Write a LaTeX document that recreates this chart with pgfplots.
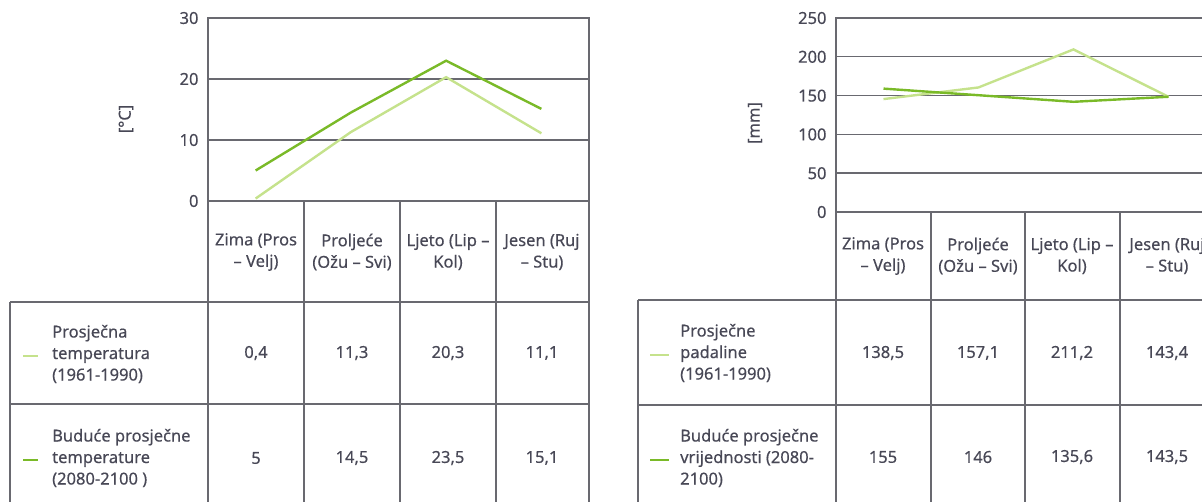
\documentclass[border=0pt]{standalone}
\usepackage{pgfplots}
\pgfplotsset{compat=1.18}
\usepackage{fontspec}
\setmainfont[FakeBold=0.35]{Noto Sans}
\definecolor{lightg}{RGB}{197,226,140}
\definecolor{darkg}{RGB}{122,186,40}
\definecolor{gridc}{RGB}{105,105,112}
\definecolor{txt}{RGB}{72,72,86}
\newcommand{\fs}{\fontsize{16.5}{21.5}\selectfont\bfseries}
\begin{document}
\begin{tikzpicture}[every node/.style={text=txt}]
\useasboundingbox (0,0) rectangle (1202pt,-502pt);
\clip (0,0) rectangle (1202pt,-502pt);
\pgfplotsset{
  myax/.style={
    anchor=south west, scale only axis,
    xmin=0, xmax=4, xtick=\empty,
    ymajorgrids, grid style={gridc, line width=1.4pt},
    axis line style={gridc, line width=1.4pt},
    major tick length=0pt,
    tick label style={font=\fs, text=txt},
    yticklabel style={xshift=-6pt},
    /pgf/number format/assume math mode=true,
    clip=false,
  }
}
% ---------- temperature ----------
\begin{axis}[myax, at={(208pt,-201pt)}, width=381pt, height=183pt,
  ymin=0, ymax=30, ytick={0,10,20,30}]
\addplot[lightg, line width=2.4pt] coordinates {(0.5,0.4) (1.5,11.3) (2.5,20.3) (3.5,11.1)};
\addplot[darkg, line width=2.4pt] coordinates {(0.5,5) (1.5,14.5) (2.5,23.0) (3.5,15.1)};
\end{axis}
% ---------- precipitation ----------
\begin{axis}[myax, at={(836pt,-212pt)}, width=380pt, height=194pt,
  ymin=0, ymax=250, ytick={0,50,100,150,200,250}]
\addplot[lightg, line width=2.4pt] coordinates {(0.5,145.5) (1.5,160.5) (2.5,209.5) (3.5,148.5)};
\addplot[darkg, line width=2.4pt] coordinates {(0.5,159) (1.5,150.5) (2.5,142) (3.5,148.5)};
\end{axis}
% unit labels
\node[rotate=90, font=\fs] at (126pt,-119pt) {[°C]};
\node[rotate=90, font=\fs] at (755pt,-123pt) {[mm]};
% ---------- left table ----------
\begin{scope}[gridc, line width=1.4pt]
\foreach \x in {208,304,400,496,589} \draw (\x pt,-201pt) -- (\x pt,-510pt);
\draw (10pt,-302pt) -- (589pt,-302pt);
\draw (10pt,-404pt) -- (589pt,-404pt);
\draw (10pt,-302pt) -- (10pt,-510pt);
\end{scope}
\begin{scope}[every node/.style={font=\fs, text=txt, align=center, inner sep=0pt}]
\node at (256pt,-252pt) {Zima (Pros\\– Velj)};
\node at (352pt,-252pt) {Proljeće\\(Ožu – Svi)};
\node at (448pt,-252pt) {Ljeto (Lip –\\Kol)};
\node at (542pt,-252pt) {Jesen (Ruj\\– Stu)};
\node at (256pt,-353pt) {0,4};
\node at (352pt,-353pt) {11,3};
\node at (448pt,-353pt) {20,3};
\node at (542pt,-353pt) {11,1};
\node at (256pt,-458pt) {5};
\node at (352pt,-458pt) {14,5};
\node at (448pt,-458pt) {23,5};
\node at (542pt,-458pt) {15,1};
\node[anchor=west, align=left] at (52pt,-354pt) {Prosječna\\temperatura\\(1961-1990)};
\node[anchor=west, align=left] at (52pt,-458pt) {Buduće prosječne\\temperature\\(2080-2100 )};
\end{scope}
\draw[lightg, line width=2pt] (23pt,-356pt) -- (38pt,-356pt);
\draw[darkg, line width=2pt] (23pt,-460pt) -- (38pt,-460pt);
% ---------- right table ----------
\begin{scope}[gridc, line width=1.4pt]
\foreach \x in {836,931,1025,1120,1215} \draw (\x pt,-212pt) -- (\x pt,-510pt);
\draw (638pt,-300pt) -- (1220pt,-300pt);
\draw (638pt,-405pt) -- (1220pt,-405pt);
\draw (638pt,-300pt) -- (638pt,-510pt);
\end{scope}
\begin{scope}[every node/.style={font=\fs, text=txt, align=center, inner sep=0pt}]
\node at (883pt,-256pt) {Zima (Pros\\– Velj)};
\node at (978pt,-256pt) {Proljeće\\(Ožu – Svi)};
\node at (1072pt,-256pt) {Ljeto (Lip –\\Kol)};
\node at (1167pt,-256pt) {Jesen (Ruj\\– Stu)};
\node at (883pt,-353pt) {138,5};
\node at (978pt,-353pt) {157,1};
\node at (1072pt,-353pt) {211,2};
\node at (1167pt,-353pt) {143,4};
\node at (883pt,-457pt) {155};
\node at (978pt,-457pt) {146};
\node at (1072pt,-457pt) {135,6};
\node at (1167pt,-457pt) {143,5};
\node[anchor=west, align=left] at (680pt,-353pt) {Prosječne\\padaline\\(1961-1990)};
\node[anchor=west, align=left] at (680pt,-458pt) {Buduće prosječne\\vrijednosti (2080-\\2100)};
\end{scope}
\draw[lightg, line width=2pt] (650pt,-355pt) -- (669pt,-355pt);
\draw[darkg, line width=2pt] (650pt,-460pt) -- (669pt,-460pt);
\end{tikzpicture}
\end{document}
